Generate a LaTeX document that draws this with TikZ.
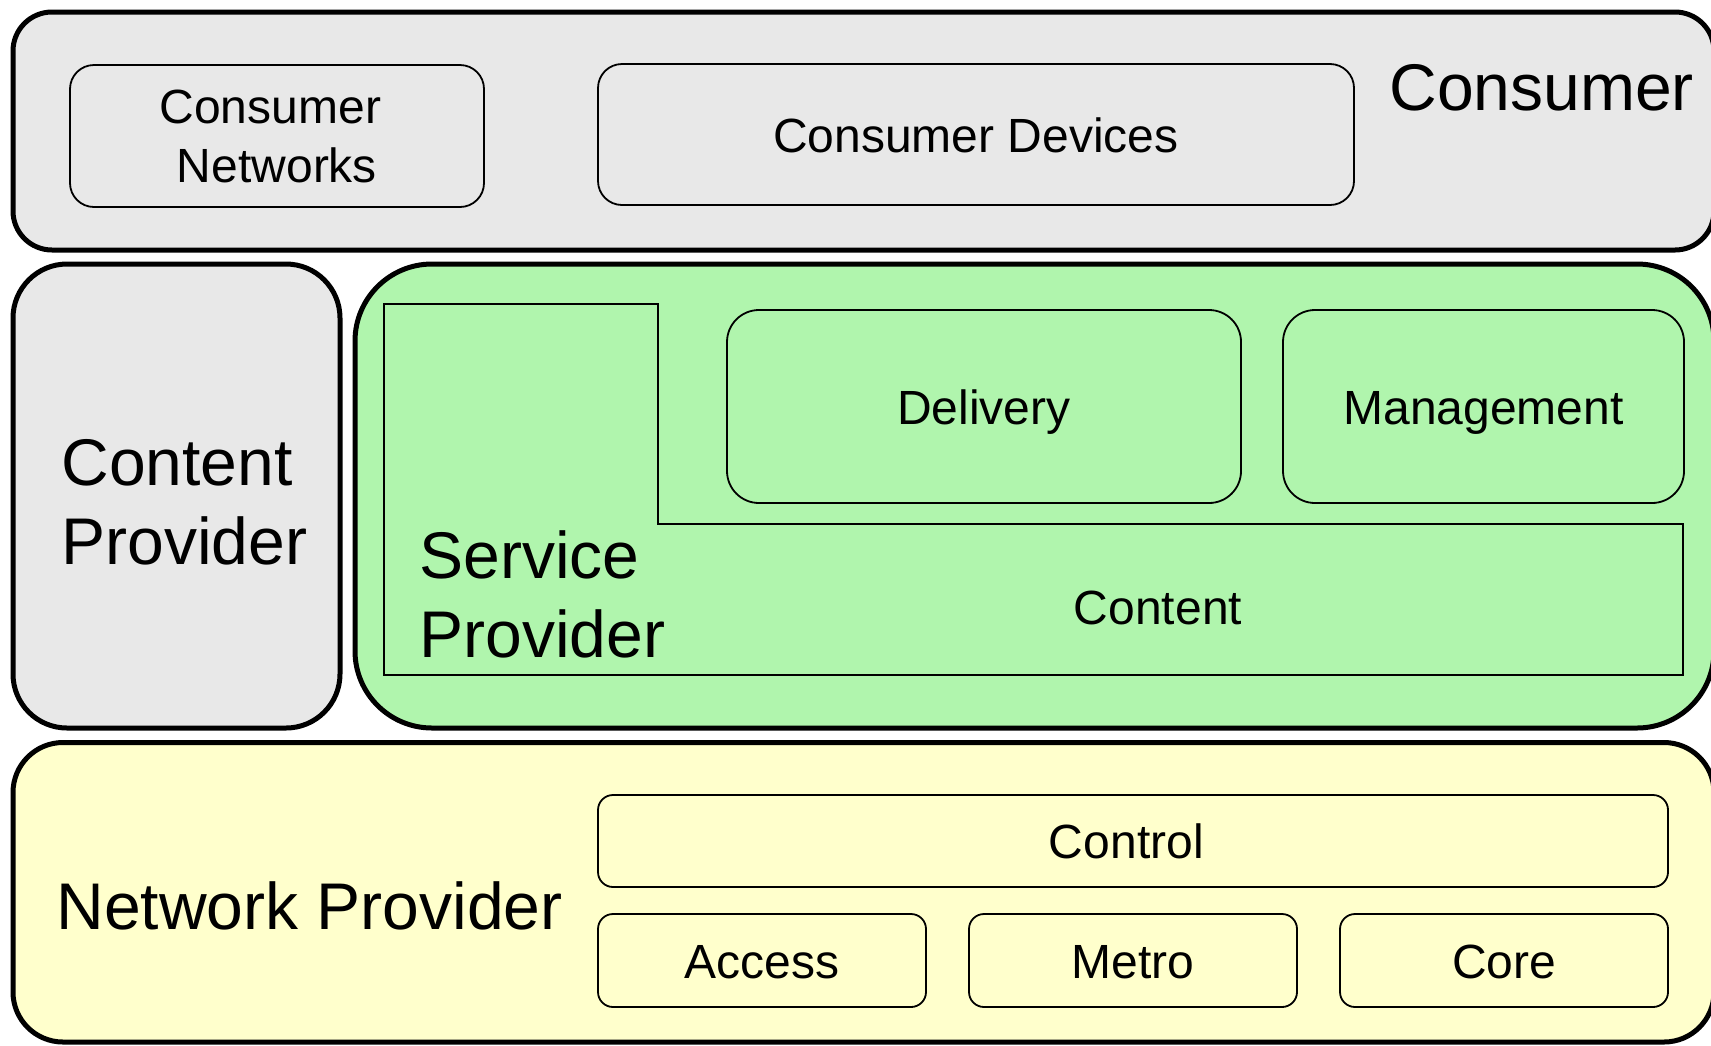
\documentclass[tikz,border=0pt]{standalone}
\usepackage{fontspec}
\setmainfont{Liberation Sans}
\definecolor{cgray}{HTML}{E8E8E8}
\definecolor{cgreen}{HTML}{B0F5AD}
\definecolor{cyellow}{HTML}{FFFFCC}
\tikzset{
  outerbox/.style={draw=black, line width=2.5pt, inner sep=0pt},
  innerbox/.style={draw=black, line width=0.9pt, inner sep=0pt, align=center,
    font=\fontsize{24}{29.5}\selectfont},
  oneline/.style={text height=20pt, text depth=2.5pt},
  small/.style={font=\fontsize{24}{29.5}\selectfont, inner sep=0pt},
  big/.style={font=\fontsize{33}{39.5}\selectfont, inner sep=0pt, align=left},
}
\begin{document}
\begin{tikzpicture}[x=0.5pt, y=-0.5pt]
\useasboundingbox (0,0) rectangle (1711,1045);
\clip (0,0) rectangle (1711,1045);
% Consumer row
\node[outerbox, fill=cgray, rounded corners=19.5pt, minimum width=850.5pt, minimum height=119pt] (consumer) at (863.5,131) {};
\node[innerbox, rounded corners=12pt, minimum width=207pt, minimum height=71pt] (consnet) at (277,136) {Consumer\hspace*{0.278em}\\Networks};
\node[innerbox, oneline, rounded corners=12pt, minimum width=378pt, minimum height=70.5pt] (consdev) at (976,134.5) {Consumer Devices};
\node[big, anchor=west] (consumerlbl) at (1389,88) {Consumer};
% Content provider
\node[outerbox, fill=cgray, rounded corners=27pt, minimum width=163.5pt, minimum height=232pt] (contprov) at (176.5,496) {};
\node[big, anchor=west] (contprovlbl) at (61,502) {Content\\Provider};
% Service provider
\node[outerbox, fill=cgreen, rounded corners=38.5pt, minimum width=679.5pt, minimum height=232pt] (servprov) at (1034.5,496) {};
\draw[line width=0.9pt] (384,304) -- (658,304) -- (658,524) -- (1683,524) -- (1683,675) -- (384,675) -- cycle;
\node[big, anchor=west] (servprovlbl) at (419,594.5) {Service\\Provider};
\node[small, anchor=base] (content) at (1158,624.3) {Content};
\node[innerbox, oneline, rounded corners=16pt, minimum width=257pt, minimum height=96.5pt] (delivery) at (984,406.5) {Delivery};
\node[innerbox, oneline, rounded corners=16pt, minimum width=200.5pt, minimum height=96.5pt] (mgmt) at (1483.5,406.5) {Management};
% Network provider
\node[outerbox, fill=cyellow, rounded corners=25pt, minimum width=850.5pt, minimum height=149.75pt] (netprov) at (863.5,892.25) {};
\node[big, anchor=west] (netprovlbl) at (56,906) {Network Provider};
\node[innerbox, oneline, rounded corners=7.5pt, minimum width=535pt, minimum height=46pt] (control) at (1133,841) {Control\hspace{0.278em}};
\node[innerbox, oneline, rounded corners=7.5pt, minimum width=164pt, minimum height=46.5pt] (access) at (762,960.5) {Access};
\node[innerbox, oneline, rounded corners=7.5pt, minimum width=164pt, minimum height=46.5pt] (metro) at (1133,960.5) {Metro};
\node[innerbox, oneline, rounded corners=7.5pt, minimum width=164pt, minimum height=46.5pt] (core) at (1504,960.5) {Core};
\end{tikzpicture}
\end{document}
